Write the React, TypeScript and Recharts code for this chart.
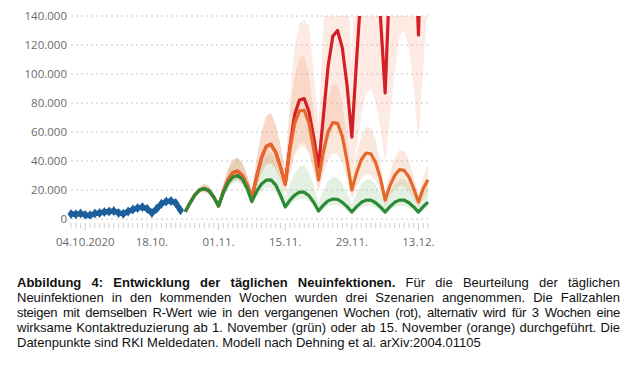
import React from "react";
import { ComposedChart, Line, Area, XAxis, YAxis, CartesianGrid } from "recharts";

// day 0 = 01.10.2020, the model scenarios start on day 24
const DAY_COUNT = 76;
const MODEL_START = 24;

const TICK_DAYS = [3, 17, 31, 45, 59, 73];
const TICK_LABELS = ["04.10.2020", "18.10.", "01.11.", "15.11.", "29.11.", "13.12."];
const Y_TICKS = [0, 20000, 40000, 60000, 80000, 100000, 120000, 140000];

// RKI Meldedaten, days 0..23
const RKI = [
  3500, 3200, 3800, 2800, 2600, 3800, 4200, 4800, 5200, 5500, 4200, 3600,
  5200, 6500, 7600, 8200, 7000, 4200, 7000, 10500, 12000, 12500, 11000, 6000,
];

// scenarios, days 24..75
const GREEN = [
  5000, 11000, 16500, 20000, 21000, 19500, 15000, 9000, 18000, 25000, 29000, 30000, 27500,
  21000, 12000, 19000, 24000, 26800, 27000, 23500, 16500, 8300, 13000, 16500, 18500, 18500,
  16000, 11500, 5500, 9500, 12500, 13800, 13600, 11500, 8500, 4800, 8500, 11500, 13000,
  13000, 11200, 8300, 4800, 8500, 11500, 13000, 13000, 11200, 8300, 4800, 8500, 11700,
];
const GREEN_HI = [
  5500, 12100, 18500, 22400, 24200, 22400, 17700, 10800, 23400, 33800, 39200, 42000, 38500,
  30500, 18000, 29500, 38400, 44200, 45900, 40000, 28900, 14900, 24100, 31400, 36100, 37000,
  32000, 23000, 11000, 19500, 26300, 29000, 28600, 24200, 17900, 10100, 17900, 24200, 27300,
  27300, 23500, 17400, 10100, 17900, 24200, 27300, 27300, 23500, 17400, 10100, 17900, 24600,
];
const GREEN_LO = [
  4600, 10100, 15200, 18400, 18900, 17500, 13500, 8100, 15300, 21300, 24700, 25500, 23400,
  17900, 10200, 15200, 19200, 21400, 21600, 18800, 13200, 6600, 9800, 12400, 13900, 13900,
  12000, 8600, 4100, 6800, 9000, 9900, 9800, 8300, 6100, 3500, 6000, 8100, 9100,
  9100, 7800, 5800, 3400, 6000, 8100, 9100, 9100, 7800, 5800, 3400, 6000, 8200,
];

const ORANGE = [
  5000, 11000, 16500, 20000, 21000, 19500, 15000, 9000, 19000, 27000, 32000, 33000, 30000,
  23500, 15000, 29000, 42000, 50000, 51500, 46000, 36000, 24000, 48000, 66000, 74500, 75000,
  66000, 48000, 27000, 46000, 60000, 66500, 66000, 57000, 40000, 20000, 32000, 41000, 45500,
  45000, 39000, 28000, 13000, 23000, 30000, 34000, 33500, 29000, 21000, 11700, 21000, 27000,
];
const ORANGE_HI = [
  5400, 11900, 17800, 21600, 24200, 22400, 17300, 10400, 24300, 34600, 41000, 42200, 38400,
  30100, 19200, 41200, 59600, 71000, 73100, 65300, 51100, 34100, 72000, 99000, 111800, 112500,
  99000, 72000, 40500, 64400, 84000, 93100, 92400, 79800, 56000, 28000, 44800, 57400, 63700,
  63000, 54600, 39200, 18200, 32200, 42000, 47600, 46900, 40600, 29400, 16400, 29400, 37800,
];
const ORANGE_LO = [
  4600, 10100, 15200, 18400, 18500, 17200, 13200, 7900, 15600, 22100, 26200, 27100, 24600,
  19300, 12300, 21800, 31500, 37500, 38600, 34500, 27000, 18000, 33600, 46200, 52200, 52500,
  46200, 33600, 18900, 31300, 40800, 45200, 44900, 38800, 27200, 13600, 21800, 27900, 30900,
  30600, 26500, 19000, 8800, 15600, 20400, 23100, 22800, 19700, 14300, 8000, 14300, 18400,
];

const RED = [
  5000, 11000, 16500, 20000, 21000, 19500, 15000, 9000, 19000, 27000, 32000, 33000, 30000,
  23500, 15000, 29000, 42000, 50000, 51500, 46000, 36000, 24000, 50000, 72000, 82000, 83000,
  74000, 56000, 36000, 70000, 105000, 126000, 130000, 118000, 92000, 56500, 110000, 160000, 195000,
  200000, 180000, 140000, 87000, 170000, 240000, 300000, 310000, 280000, 215000, 127000, 250000, 360000,
];
const RED_HI = [
  5400, 11900, 17800, 21600, 24200, 22400, 17300, 10400, 24300, 34600, 41000, 42200, 38400,
  30100, 19200, 41200, 59600, 71000, 73100, 65300, 51100, 34100, 82500, 118800, 135300, 137000,
  133200, 100800, 64800, 129500, 194300, 233100, 240500, 218300, 170200, 104500, 214500, 312000, 380300,
  390000, 351000, 273000, 169700, 340000, 480000, 600000, 620000, 560000, 430000, 254000, 500000, 720000,
];
const RED_LO = [
  4600, 10100, 15200, 18400, 18500, 17200, 13200, 7900, 15600, 22100, 26200, 27100, 24600,
  19300, 12300, 21800, 31500, 37500, 38600, 34500, 27000, 18000, 30000, 43200, 49200, 49800,
  44400, 33600, 21600, 35000, 52500, 63000, 65000, 59000, 46000, 28300, 49500, 72000, 87800,
  90000, 81000, 63000, 39200, 71400, 100800, 126000, 130200, 117600, 90300, 53300, 105000, 151200,
];

const C_BLUE = "#1d5e9c";
const C_RED = "#d41f26";
const C_ORANGE = "#e5672a";
const C_GREEN = "#2b8a36";

const rows = Array.from({ length: DAY_COUNT }, (_, day) => {
  const i = day - MODEL_START;
  const m = i >= 0;
  return {
    day,
    rki: day < RKI.length ? RKI[day] : null,
    green: m ? GREEN[i] : null,
    orange: m ? ORANGE[i] : null,
    red: m ? RED[i] : null,
    greenBand: m ? [GREEN_LO[i], GREEN_HI[i]] : null,
    orangeBand: m ? [ORANGE_LO[i], ORANGE_HI[i]] : null,
    redBand: m ? [RED_LO[i], RED_HI[i]] : null,
  };
});
const allDays = rows.map((r) => r.day);

const fmt = (v: number) => String(v).replace(/\B(?=(\d{3})+(?!\d))/g, ".");

function DayTick(props: any) {
  const { x, y, payload } = props;
  const idx = TICK_DAYS.indexOf(payload.value);
  return (
    <g>
      <line x1={x} x2={x} y1={y + 4} y2={y + (idx >= 0 ? 11 : 9)} stroke="#cfcfcf" strokeWidth={1} />
      {idx >= 0 && (
        <text x={x} y={y + 27} textAnchor="middle" fill="#6a6a6a" fontSize={11.5} fontFamily="Open Sans">
          {TICK_LABELS[idx]}
        </text>
      )}
    </g>
  );
}

function Diamond(props: any) {
  const { cx, cy, index } = props;
  if (cx == null || cy == null) return <g key={index} />;
  return (
    <path
      key={index}
      d={`M${cx},${cy - 5}L${cx + 3.5},${cy}L${cx},${cy + 5}L${cx - 3.5},${cy}Z`}
      fill={C_BLUE}
    />
  );
}

const lineProps = {
  type: "linear" as const,
  dot: false,
  strokeWidth: 3.2,
  strokeLinejoin: "round" as const,
  isAnimationActive: false,
};

const justified = { textAlign: "justify" as const, textAlignLast: "justify" as const, whiteSpace: "nowrap" as const };

export default function App() {
  return (
    <div style={{ position: "absolute", left: 0, top: 0, width: 632, height: 370, background: "#fff", overflow: "hidden" }}>
      <ComposedChart width={450} height={255} data={rows} margin={{ top: 16, right: 22, left: 0, bottom: 6 }}>
        <CartesianGrid vertical={false} stroke="#c8c8c8" strokeDasharray="2 3" />
        <XAxis
          dataKey="day"
          type="number"
          domain={[0, DAY_COUNT - 1]}
          ticks={allDays}
          interval={0}
          tick={<DayTick />}
          tickLine={false}
          axisLine={false}
          tickSize={0}
          tickMargin={0}
          height={30}
        />
        <YAxis
          domain={[0, 140000]}
          ticks={Y_TICKS}
          allowDataOverflow
          width={71}
          tickSize={0}
          tickMargin={4}
          axisLine={false}
          tickLine={false}
          tickFormatter={fmt}
          tick={{ fill: "#6a6a6a", fontSize: 11.5, fontFamily: "Open Sans" }}
        />
        <Area dataKey="greenBand" type="linear" stroke="none" fill="#8fc48a" fillOpacity={0.25} isAnimationActive={false} />
        <Area dataKey="orangeBand" type="linear" stroke="none" fill="#eb8c55" fillOpacity={0.2} isAnimationActive={false} />
        <Area dataKey="redBand" type="linear" stroke="none" fill="#f2a07e" fillOpacity={0.22} isAnimationActive={false} />
        <Line dataKey="red" stroke={C_RED} {...lineProps} />
        <Line dataKey="orange" stroke={C_ORANGE} {...lineProps} />
        <Line dataKey="green" stroke={C_GREEN} {...lineProps} />
        <Line dataKey="rki" type="linear" stroke={C_BLUE} strokeWidth={5.5} strokeLinejoin="round" dot={Diamond} isAnimationActive={false} />
      </ComposedChart>
      <div
        style={{
          position: "absolute",
          left: 17,
          top: 275,
          width: 603,
          fontFamily: "'Liberation Sans', Arial, sans-serif",
          fontSize: 13,
          lineHeight: "15px",
          color: "#111",
        }}
      >
        <div style={justified}>
          <b>Abbildung 4: Entwicklung der täglichen Neuinfektionen.</b> Für die Beurteilung der täglichen
        </div>
        <div style={justified}>
          Neuinfektionen in den kommenden Wochen wurden drei Szenarien angenommen. Die Fallzahlen
        </div>
        <div style={{ ...justified, letterSpacing: -0.25 }}>
          steigen mit demselben R-Wert wie in den vergangenen Wochen (rot), alternativ wird für 3 Wochen eine
        </div>
        <div style={justified}>
          wirksame Kontaktreduzierung ab 1. November (grün) oder ab 15. November (orange) durchgeführt. Die
        </div>
        <div style={{ whiteSpace: "nowrap" }}>Datenpunkte sind RKI Meldedaten. Modell nach Dehning et al. arXiv:2004.01105</div>
      </div>
    </div>
  );
}
